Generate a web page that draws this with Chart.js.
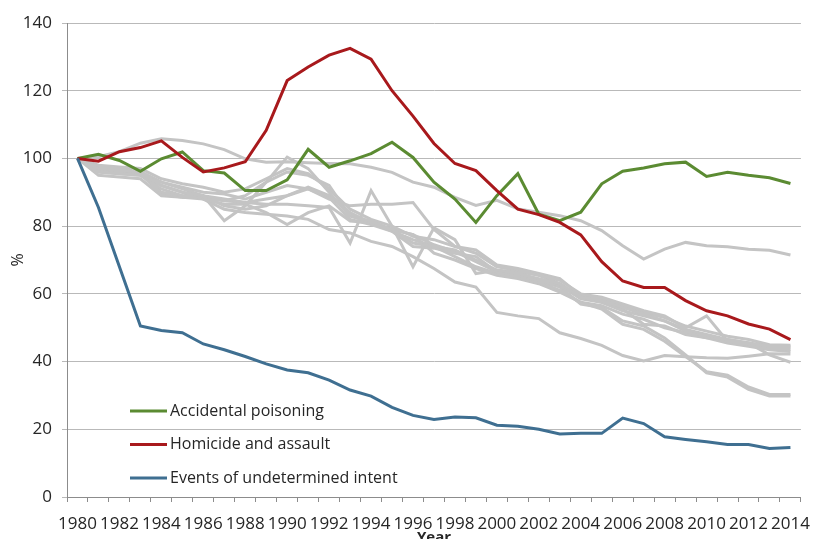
<!DOCTYPE html>
<html>
<head>
<meta charset="utf-8">
<script src="https://cdn.jsdelivr.net/npm/chart.js@4"></script>
<style>
  html, body { margin: 0; padding: 0; background: #fff; overflow: hidden; }
  #wrap { position: relative; width: 822px; height: 539px; }
</style>
</head>
<body>
<div id="wrap"><canvas id="chart"></canvas></div>
<script>
// ── Data ─────────────────────────────────────────────────────
const years = ['1980','1981','1982','1983','1984','1985','1986','1987','1988','1989',
  '1990','1991','1992','1993','1994','1995','1996','1997','1998','1999',
  '2000','2001','2002','2003','2004','2005','2006','2007','2008','2009',
  '2010','2011','2012','2013','2014'];

const accidental = [100, 101.2, 99.4, 96.2, 99.9, 101.9, 96.4, 95.7, 90.5, 90.5,
  93.7, 102.7, 97.4, 99.3, 101.4, 104.8, 100.3, 93, 88, 81.1,
  89, 95.5, 83.5, 81.6, 84.1, 92.5, 96.2, 97.2, 98.4, 98.9,
  94.7, 95.9, 95, 94.3, 92.6];
const homicide = [100, 99.2, 102, 103.2, 105.2, 100.3, 96, 97.2, 99, 108.3,
  123, 127, 130.5, 132.5, 129.3, 120, 112.5, 104.4, 98.5, 96.4,
  90.5, 85, 83.4, 81.1, 77.4, 69.5, 63.8, 61.9, 61.9, 58,
  55, 53.5, 51.1, 49.6, 46.5];
const undetermined = [100, 85.5, 68, 50.5, 49.2, 48.5, 45.2, 43.5, 41.5, 39.3,
  37.5, 36.7, 34.5, 31.6, 29.8, 26.5, 24.1, 22.9, 23.6, 23.4,
  21.2, 20.9, 20, 18.6, 18.8, 18.8, 23.3, 21.7, 17.8, 17,
  16.3, 15.5, 15.5, 14.3, 14.6];

// other causes, drawn in grey, not in the legend
const other1 = [100, 100.5, 102, 104.5, 105.8, 105.3, 104.3, 102.6, 99.9, 98.9,
  99, 98.7, 98.5, 98.4, 97.4, 95.9, 93, 91.5, 88.5, 86.1,
  87.6, 85.1, 84.1, 83.1, 81.6, 78.7, 74.2, 70.3, 73.2, 75.2,
  74.2, 73.9, 73.2, 72.9, 71.5];
const other2 = [100, 97, 96.5, 96, 92, 90, 89, 81.6, 86, 93,
  100.4, 97, 90, 83, 81.5, 79, 75, 74, 73, 70,
  67, 66, 64.5, 63, 59, 58, 56, 54, 52, 49.5,
  48, 46.5, 45.5, 44.5, 44.5];
const other3 = [100, 97.5, 97, 96, 93, 91, 89, 88, 87, 86.5,
  86.5, 86, 85.5, 75, 90.5, 80, 68, 79.5, 76, 66,
  67, 66.5, 65.5, 64, 60, 59, 57, 55, 53.5, 50,
  53.5, 46, 45, 44, 43.5];
const other4 = [100, 96, 95.5, 95, 91, 89, 88.5, 87.5, 87, 88,
  89, 91, 88, 86, 86.5, 86.5, 87, 79, 74, 72,
  68, 67, 65.5, 63, 59, 57.5, 55, 53.5, 52, 49,
  47.5, 46, 45.5, 44.5, 44];
const other5 = [100, 96, 95.5, 95, 92, 90, 88, 85, 84, 83.5,
  83, 82, 79, 78, 75.5, 74, 71, 67.5, 63.5, 62,
  54.5, 53.5, 52.7, 48.5, 46.8, 44.8, 41.8, 40.2, 41.8, 41.4,
  41.1, 41, 41.6, 42.3, 42.2];
const other6 = [100, 97, 96, 95.5, 90, 89, 89, 86, 85, 86,
  89, 91.5, 89, 84, 81, 78.5, 74, 73.5, 72, 71,
  66.5, 65.5, 64, 62.5, 58.5, 57.5, 55.5, 51, 50.5, 48,
  47, 46.5, 45.5, 42, 39.8];
const other7 = [100, 96.5, 96, 95.5, 89.5, 88.5, 88.5, 87.5, 89, 93,
  96, 95, 92, 83, 81, 79, 77.5, 74.5, 72.5, 69.5,
  66.5, 66, 64, 62, 57, 56, 52, 50.5, 47, 42,
  36.7, 35.4, 31.8, 29.8, 29.8];
const other8 = [100, 97, 96.5, 96, 93, 91.5, 90, 89.5, 88, 90,
  92, 91, 88.5, 82, 80.5, 78.5, 76, 74, 71, 68,
  66, 65, 63.5, 61, 57.5, 55.5, 51, 49.5, 46, 41.5,
  37, 36, 32.5, 30.3, 30.3];
const other9 = [100, 98, 97.5, 97, 94, 92.5, 91.5, 90, 91, 94,
  97, 95.5, 91, 85, 82, 80, 77, 76, 74, 73,
  68.5, 67.5, 66, 64.5, 59.5, 58.5, 56.5, 54.5, 53, 50.5,
  49, 47.5, 46.5, 45, 44.8];
const other10 = [100, 95, 94.5, 94, 89, 88.5, 88, 86.5, 86.5, 84,
  80.5, 84, 86, 81.5, 81, 79, 77.5, 72, 70, 67.5,
  65.5, 64.5, 63, 60.5, 57.5, 56.5, 54, 52.5, 50, 48.5,
  47, 45.5, 44.5, 43.5, 43];

const yTicks = [0, 20, 40, 60, 80, 100, 120, 140];

// ── Styles ───────────────────────────────────────────────────
const GREEN = '#5b8b32', RED = '#a8191c', BLUE = '#3f6f91', GREY = '#c4c4c4';
const FONT = 'Open Sans';
const TEXT = '#262626';

const line = (label, data, color, legend) => ({
  label, data, borderColor: color, backgroundColor: color, borderWidth: 3,
  pointRadius: 0, tension: 0, fill: false, showInLegend: legend
});

const datasets = [
  line('Events of undetermined intent', undetermined, BLUE, true),
  line('Homicide and assault', homicide, RED, true),
  line('Accidental poisoning', accidental, GREEN, true),
  ...[other1, other2, other3, other4, other5, other6, other7, other8, other9, other10]
    .map((d, i) => line('Other ' + (i + 1), d, GREY, false))
];

// legend drawn inside the plot, lower left
const legendOrder = ['Accidental poisoning', 'Homicide and assault', 'Events of undetermined intent'];
const insideLegend = {
  id: 'insideLegend',
  afterDatasetsDraw(chart) {
    const c = chart.ctx;
    c.save();
    c.font = '16px "' + FONT + '"';
    c.textBaseline = 'middle';
    c.fillStyle = TEXT;
    legendOrder.forEach((name, i) => {
      const ds = chart.data.datasets.find(d => d.label === name);
      const y = 411 + i * 33.5;
      c.strokeStyle = ds.borderColor;
      c.lineWidth = 3;
      c.beginPath(); c.moveTo(130, y); c.lineTo(167, y); c.stroke();
      c.fillText(name, 170, y);
    });
    c.restore();
  }
};

new Chart(document.getElementById('chart'), {
  type: 'line',
  data: { labels: years, datasets },
  plugins: [insideLegend],
  options: {
    responsive: true, maintainAspectRatio: false, animation: false,
    layout: { padding: { top: 23, right: 8, left: 0, bottom: 0 } },
    plugins: { legend: { display: false }, tooltip: { enabled: false } },
    scales: {
      x: {
        type: 'category', offset: true,
        grid: { display: true, drawOnChartArea: false, drawTicks: true, tickLength: 5, offset: true, color: '#8c8c8c' },
        border: { display: true, color: '#8c8c8c', width: 1 },
        ticks: {
          autoSkip: false, maxRotation: 0, minRotation: 0, padding: 12, color: TEXT,
          font: { family: FONT, size: 17 },
          callback: (v, i) => i % 2 === 0 ? years[i] : ''
        },
        title: { display: true, text: 'Year', color: TEXT, font: { family: FONT, size: 15, weight: 'bold' }, padding: { top: 0, bottom: -8 } },
        afterFit: s => { s.height = 42; }
      },
      y: {
        min: 0, max: 140,
        afterBuildTicks: s => { s.ticks = yTicks.map(v => ({ value: v })); },
        grid: { color: '#b9b9b9', drawTicks: true, tickLength: 5, lineWidth: 1 },
        border: { display: true, color: '#8c8c8c', width: 1 },
        ticks: { padding: 10, color: TEXT, font: { family: FONT, size: 17 } },
        title: { display: true, text: '%', color: TEXT, font: { family: FONT, size: 16 }, padding: { top: 9, bottom: 0 } },
        afterFit: s => { s.width = 67; }
      }
    }
  }
});
</script>
</body>
</html>
